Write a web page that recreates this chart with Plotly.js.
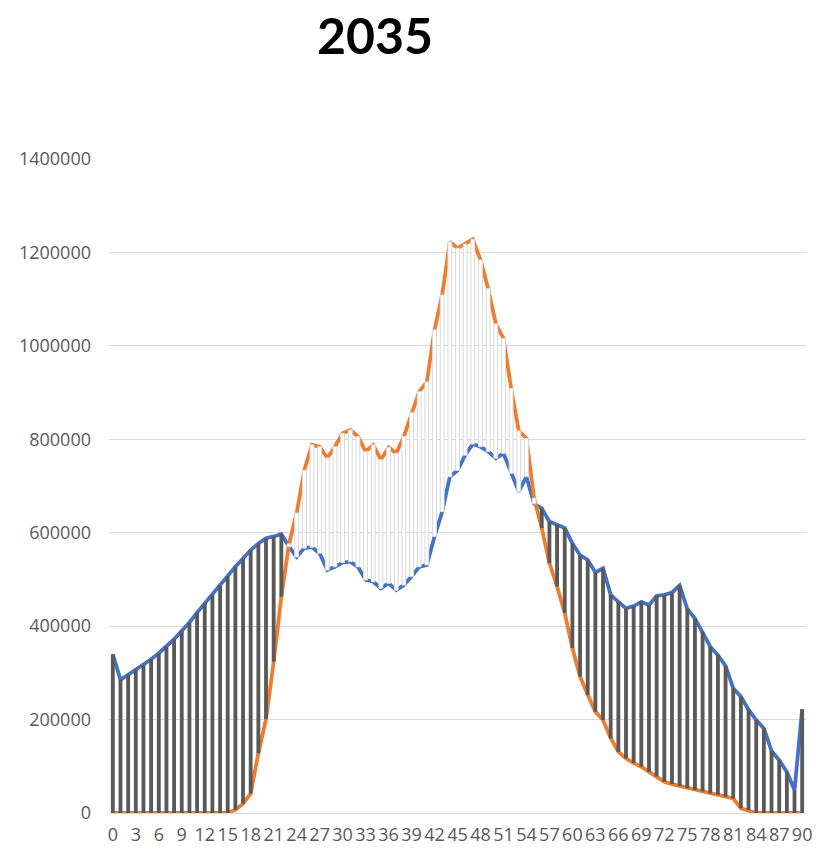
<!DOCTYPE html>
<html>
<head>
<meta charset="utf-8">
<script src="https://cdn.plot.ly/plotly-3.0.1.min.js"></script>
<style>
  html, body { margin: 0; padding: 0; background: #ffffff; }
  #chart { width: 816px; height: 850px; }
</style>
</head>
<body>
<div id="chart"></div>
<script>
// Ages 0..90
const ages = [];
for (let a = 0; a <= 90; a++) ages.push(a);

// Blue series
const blueSeries = [
  340000, 285000, 296000, 307000, 317000, 329000, 342000, 356000, 372000, 390000,
  408000, 429000, 449000, 467000, 487000, 507000, 527000, 545000, 563000, 577000,
  588000, 592000, 597000, 570000, 548000, 567000, 569000, 556000, 520000, 527000,
  536000, 538000, 527000, 499000, 495000, 481000, 492000, 477000, 488000, 506000,
  527000, 531000, 592000, 645000, 720000, 733000, 766000, 790000, 784000, 774000,
  759000, 770000, 727000, 688000, 720000, 662000, 652000, 624000, 617000, 610000,
  577000, 552000, 542000, 515000, 524000, 467000, 452000, 438000, 443000, 452000,
  445000, 465000, 467000, 472000, 487000, 437000, 416000, 388000, 356000, 338000,
  315000, 267000, 249000, 221000, 199000, 181000, 133000, 113000, 88000, 49000,
  222000
];

// Orange series
const orangeSeries = [
  0, 0, 0, 0, 0, 0, 0, 0, 0, 0,
  0, 0, 0, 0, 0, 0, 7000, 20000, 42000, 128000,
  201000, 324000, 463000, 576000, 642000, 734000, 788000, 784000, 760000, 784000,
  813000, 820000, 806000, 774000, 788000, 756000, 783000, 770000, 806000, 857000,
  902000, 923000, 1034000, 1109000, 1223000, 1209000, 1218000, 1228000, 1184000, 1123000,
  1047000, 1016000, 909000, 818000, 802000, 674000, 610000, 535000, 485000, 428000,
  353000, 292000, 253000, 217000, 199000, 160000, 131000, 117000, 107000, 99000,
  88000, 78000, 67000, 62000, 58000, 53000, 49000, 46000, 42000, 39000,
  35000, 31000, 10000, 6000, 0, 0, 0, 0, 0, 0,
  0
];

const xTickVals = [0,3,6,9,12,15,18,21,24,27,30,33,36,39,42,45,48,51,54,57,60,63,66,69,72,75,78,81,84,87,90];
const xTickText = xTickVals.map(String);
const yTickVals = [0, 200000, 400000, 600000, 800000, 1000000, 1200000, 1400000];

// up / down bars built from the two series
const downBase = [], downLen = [], upBase = [], upLen = [];
for (let i = 0; i < ages.length; i++) {
  const b = blueSeries[i], o = orangeSeries[i];
  if (b >= o) {
    downBase.push(o); downLen.push(b - o); upBase.push(null); upLen.push(null);
  } else {
    upBase.push(b); upLen.push(o - b); downBase.push(null); downLen.push(null);
  }
}

const traces = [
  { type: 'scatter', mode: 'lines', x: ages, y: blueSeries, xaxis: 'x', yaxis: 'y',
    line: { color: '#4472C4', width: 3.8 }, hoverinfo: 'skip', showlegend: false },
  { type: 'scatter', mode: 'lines', x: ages, y: orangeSeries, xaxis: 'x', yaxis: 'y',
    line: { color: '#ED7D31', width: 3.8 }, hoverinfo: 'skip', showlegend: false },
  { type: 'bar', x: ages, y: downLen, base: downBase, xaxis: 'x2', yaxis: 'y',
    width: 0.5, marker: { color: '#595959', line: { width: 0 } }, showlegend: false },
  { type: 'bar', x: ages, y: upLen, base: upBase, xaxis: 'x2', yaxis: 'y',
    width: 0.5, marker: { color: '#ffffff', line: { color: '#D9D9D9', width: 1 } }, showlegend: false }
];

const W = 816, H = 850;
const layout = {
  width: W, height: H,
  paper_bgcolor: '#ffffff', plot_bgcolor: '#ffffff',
  margin: { l: 109, r: 10, t: 159, b: 37 },
  barmode: 'overlay',
  title: {
    text: '<b>2035</b>',
    font: { family: 'Lato, "Open Sans", sans-serif', size: 50, color: '#000000' },
    xref: 'container', yref: 'container',
    x: 375 / W, xanchor: 'center',
    y: 1 - 36 / H, yanchor: 'middle'
  },
  xaxis: {
    range: [-0.5, 90.5], tickmode: 'array', tickvals: xTickVals, ticktext: xTickText,
    showgrid: false, zeroline: false, showline: true, linecolor: '#D9D9D9', linewidth: 1,
    ticks: '', ticklabelstandoff: 5,
    tickfont: { family: '"Open Sans", sans-serif', size: 18, color: '#595959' },
    fixedrange: true
  },
  xaxis2: {
    range: [-0.5, 90.5], overlaying: 'x', visible: false, showgrid: false, zeroline: false,
    fixedrange: true
  },
  yaxis: {
    range: [0, 1400000], tickmode: 'array', tickvals: yTickVals,
    ticktext: yTickVals.map(String),
    showgrid: true, gridcolor: '#D9D9D9', gridwidth: 1, zeroline: false,
    showline: false, ticks: '', ticklabelstandoff: 17,
    tickfont: { family: '"Open Sans", sans-serif', size: 18, color: '#595959' },
    fixedrange: true
  },
  showlegend: false
};

Plotly.newPlot('chart', traces, layout, { displayModeBar: false, staticPlot: true });
</script>
</body>
</html>
